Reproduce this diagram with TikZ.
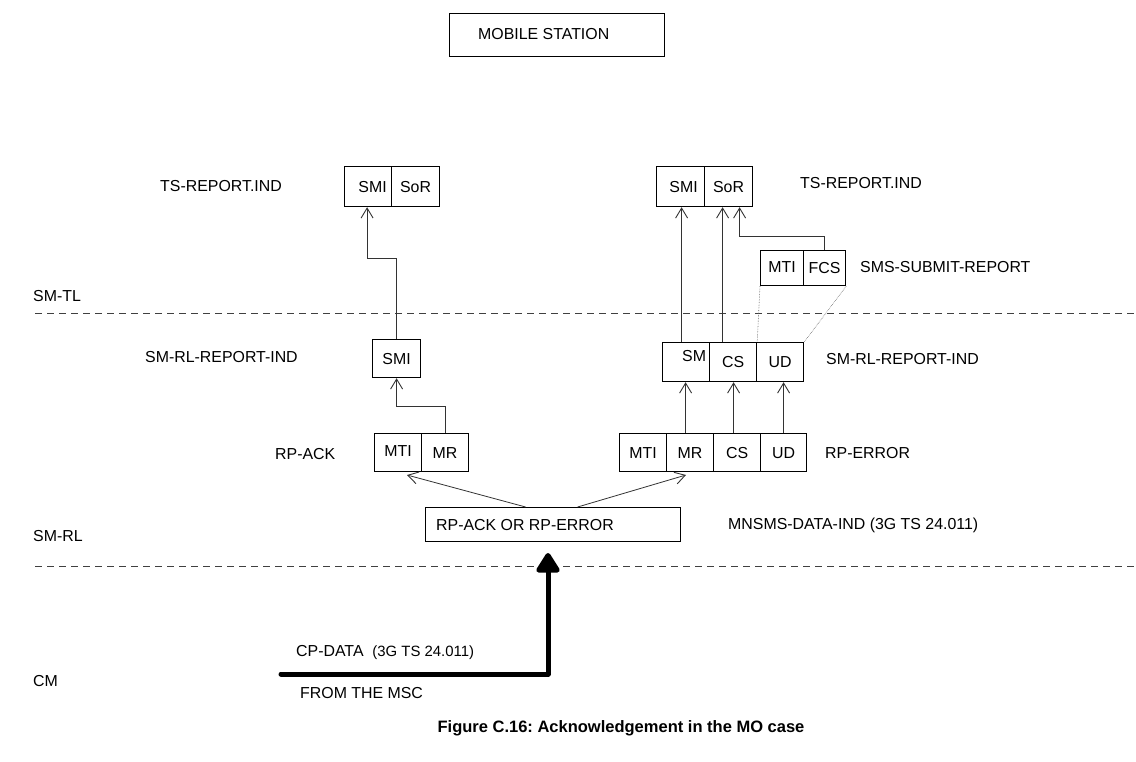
\documentclass[tikz,border=0pt]{standalone}
\usepackage{fontspec}
\setmainfont{Liberation Sans}
\usetikzlibrary{arrows.meta}
\frenchspacing
\begin{document}
\begin{tikzpicture}[x=1pt,y=-1pt,
  every node/.style={font=\fontsize{15.9}{18}\selectfont},
  cell/.style={draw, line width=1.2pt, inner sep=0pt, anchor=north west, text height=11pt, text depth=0pt},
  lbl/.style={anchor=west, inner sep=0pt, text height=11pt, text depth=0pt},
  arr/.style={line width=0.8pt, draw=black!80, -{Straight Barb[length=10pt,width=12pt,line width=0.9pt]}},
  sep/.style={dash pattern=on 7pt off 5pt, line width=0.8pt, draw=black!75},
  dots/.style={densely dotted, line width=0.6pt, draw=black!60},
  bigarrow/.style={line width=5pt, line cap=round, line join=round, -{Triangle[length=22pt,width=26pt,round]}}
]
\useasboundingbox (0,0) rectangle (1136,762);

% mobile station
\node[cell, minimum width=215pt, minimum height=43pt] (ms) at (449,13) {};
\node[lbl] (mst) at (478,34) {MOBILE STATION};

% left TS box
\node[cell, minimum width=47pt, minimum height=40pt] (lsmi) at (344,166) {\hspace*{9pt}SMI};
\node[cell, minimum width=48pt, minimum height=40pt] (lsor) at (391,166) {SoR};
\node[lbl] (tsl) at (160,186) {TS-REPORT.IND};

% right TS box
\node[cell, minimum width=48pt, minimum height=40pt] (rsmi) at (656,166) {\hspace*{6pt}SMI};
\node[cell, minimum width=48pt, minimum height=40pt] (rsor) at (704,166) {SoR};
\node[lbl] (tsr) at (800,183) {TS-REPORT.IND};

% SMS-SUBMIT-REPORT
\node[cell, minimum width=43pt, minimum height=35pt] (smti) at (760,250) {\raisebox{1.5pt}{MTI}};
\node[cell, minimum width=42pt, minimum height=35pt] (sfcs) at (803,250) {FCS};
\node[lbl] (ssr) at (860,267) {SMS-SUBMIT-REPORT};

% layer labels and separators
\node[lbl] (smtl) at (33,296) {SM-TL};
\coordinate (d1a) at (35,313);
\coordinate (d1b) at (1136,313);
\draw[sep] (d1a) -- (d1b);

% SM-RL-REPORT-IND left
\node[cell, minimum width=48pt, minimum height=38pt] (msmi) at (372,339) {SMI};
\node[lbl] (rrl) at (145,357) {SM-RL-REPORT-IND};

% SM-RL-REPORT-IND right
\node[cell, minimum width=47pt, minimum height=39pt] (rsm) at (662,342) {\hspace*{16pt}\raisebox{6pt}{SM}};
\node[cell, minimum width=47pt, minimum height=39pt] (rcs) at (709,342) {CS};
\node[cell, minimum width=47pt, minimum height=39pt] (rud) at (756,342) {UD};
\node[lbl] (rrr) at (826,359) {SM-RL-REPORT-IND};

% RP-ACK
\node[cell, minimum width=47pt, minimum height=38pt] (amti) at (374,433) {\raisebox{2pt}{MTI}};
\node[cell, minimum width=47pt, minimum height=38pt] (amr) at (421,433) {MR};
\node[lbl] (rpack) at (275,454) {RP-ACK};

% RP-ERROR
\node[cell, minimum width=47pt, minimum height=38pt] (emti) at (619,433) {MTI};
\node[cell, minimum width=47pt, minimum height=38pt] (emr) at (666,433) {MR};
\node[cell, minimum width=47pt, minimum height=38pt] (ecs) at (713,433) {CS};
\node[cell, minimum width=46pt, minimum height=38pt] (eud) at (760,433) {UD};
\node[lbl] (rperr) at (825,453) {RP-ERROR};

% RP-ACK OR RP-ERROR
\node[cell, minimum width=255pt, minimum height=34pt] (big) at (425,507) {};
\node[lbl] (bigt) at (436,525) {RP-ACK OR RP-ERROR};
\node[lbl] (mnsms) at (728,524) {MNSMS-DATA-IND (3G TS 24.011)};

\node[lbl] (smrl) at (33,536) {SM-RL};
\coordinate (d2a) at (35,566);
\coordinate (d2b) at (1136,566);
\draw[sep] (d2a) -- (d2b);

% CM
\node[lbl] (cm) at (33,681) {CM};
\node[lbl] (cpd) at (296,651) {CP-DATA\ \ {\fontsize{14.9}{17}\selectfont(3G TS 24.011)}};
\node[lbl] (from) at (300,693) {FROM THE MSC};

% caption
\node[inner sep=0pt, font=\fontsize{16.5}{19}\selectfont\bfseries] (cap) at (621,728) {Figure C.16: Acknowledgement in the MO case};

% connectors left
\draw[arr] (amr.north) -- ++(0,-27) -| (msmi.south);
\draw[arr] (msmi.north) -- ++(0,-81) -| ([xshift=-1pt]lsmi.south);

% connectors right (to TS)
\draw[arr] ([xshift=-4.5pt]rsm.north) -- ([xshift=-4.5pt]rsm.north |- rsmi.south);
\draw[arr] ([xshift=-10.5pt]rcs.north) -- ([xshift=-10.5pt]rcs.north |- rsor.south);
\draw[arr] (sfcs.north) -- ++(0,-14) -| ([xshift=11pt]rsor.south);

% dotted
\draw[dots] (smti.south west) -- (rcs.north east);
\draw[dots] (sfcs.south east) -- (rud.north east);

% RP-ERROR to SM-RL-REPORT-IND
\draw[arr] ([xshift=-4.5pt]emr.north) -- ([xshift=-4.5pt]emr.north |- rsm.south);
\draw[arr] ([xshift=-3.5pt]ecs.north) -- ([xshift=-3.5pt]ecs.north |- rcs.south);
\draw[arr] (eud.north) -- (eud.north |- rud.south);

% from big box
\coordinate (ackin) at (407,475);
\coordinate (errin) at (686,475);
\draw[arr] ([xshift=-27.5pt]big.north) -- (ackin);
\draw[arr] ([xshift=24.5pt]big.north) -- (errin);

% thick arrow
\coordinate (msc) at (281,674);
\coordinate (corner) at (548,674);
\coordinate (tip) at (548,553);
\draw[bigarrow] (msc) -- (corner) -- (tip);
\end{tikzpicture}
\end{document}
